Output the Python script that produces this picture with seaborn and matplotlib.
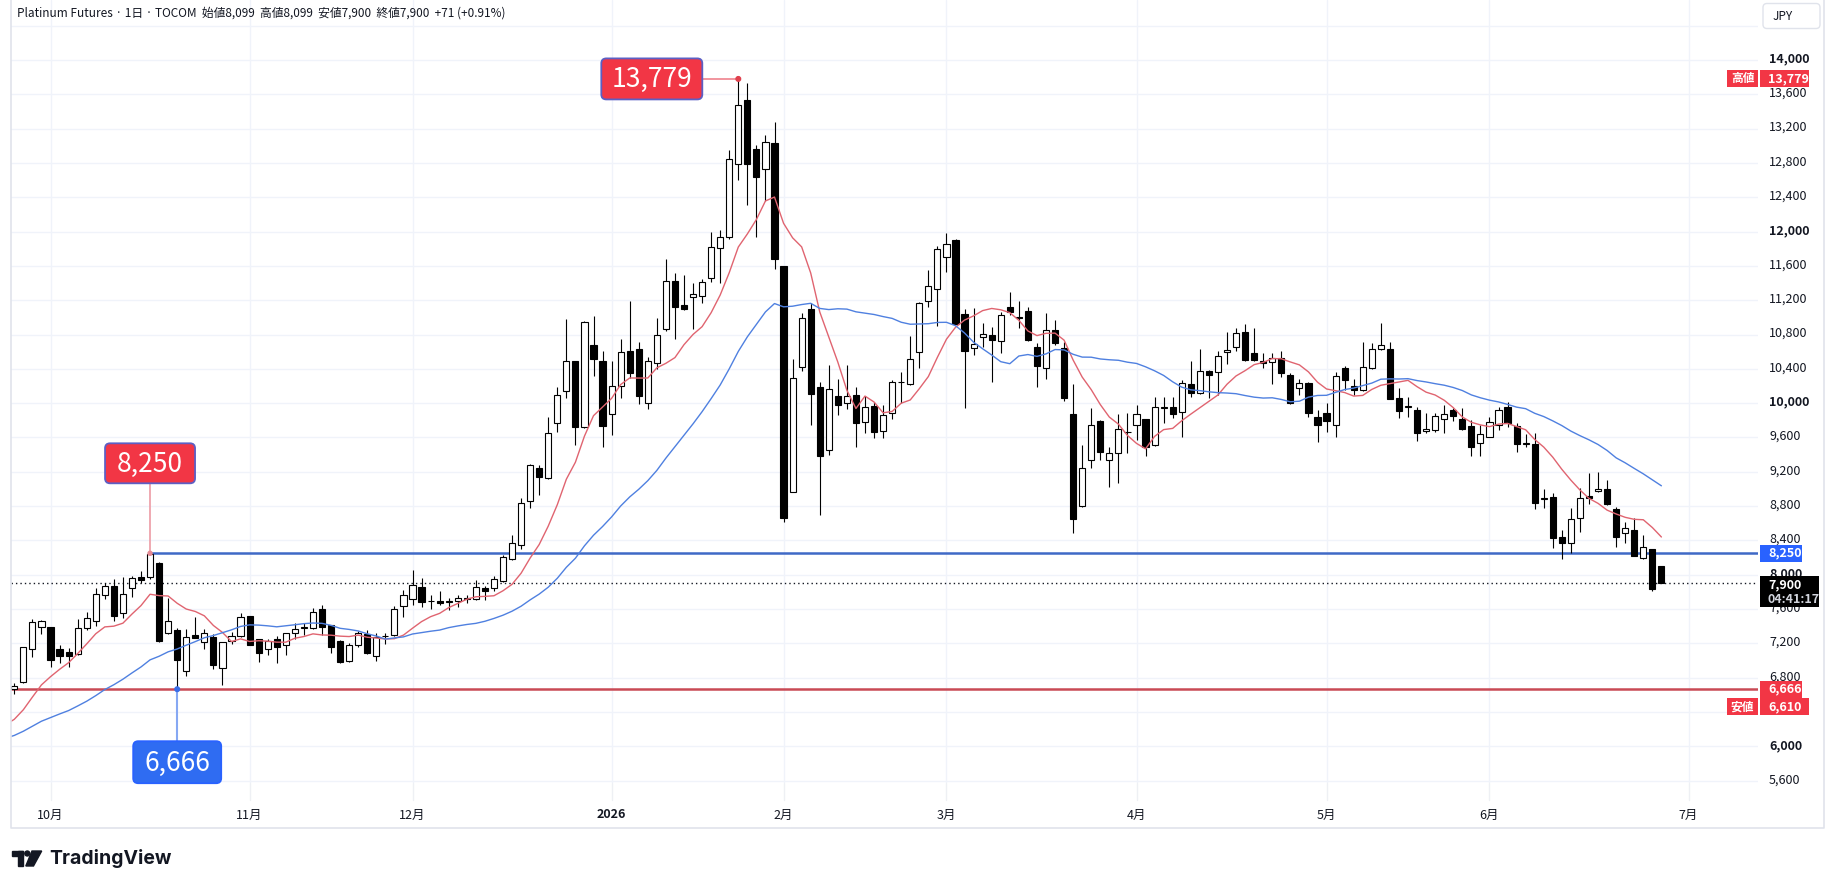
import numpy as np
import pandas as pd
import matplotlib
matplotlib.use("Agg")
import matplotlib.pyplot as plt
import seaborn as sns
from matplotlib.patches import Rectangle, FancyBboxPatch, Circle, Polygon

# --- data, one row per trading day ---
opens = [6668, 6754, 7134, 7391, 7391, 7134, 7095, 7072, 7379, 7457,
         7760, 7865, 7550, 7842, 7970, 7970, 8133, 7325, 7356, 6882,
         7298, 7212, 7274, 6909, 7228, 7282, 7519, 7247, 7130, 7247,
         7177, 7317, 7385, 7375, 7597, 7414, 7224, 6991, 7177, 7309,
         7053, 7282, 7294, 7636, 7721, 7861, 7694, 7698, 7686, 7694,
         7720, 7713, 7849, 7841, 7931, 8179, 8350, 8863, 9240, 9123,
         9764, 10141, 10487, 9721, 10677, 10491, 9869, 10196, 10604, 10627,
         10001, 10464, 10868, 11419, 11140, 11233, 11248, 11458, 11804, 11941,
         12784, 13530, 12963, 12726, 13029, 11595, 8969, 10418, 11094, 10185,
         9450, 10080, 9998, 10091, 9777, 9963, 9672, 9882, 10245, 10220,
         10593, 11187, 11327, 11708, 11902, 11039, 10639, 10767, 10794, 10728,
         11121, 11000, 11074, 10655, 10406, 10853, 10639, 9874, 8802, 9334,
         9792, 9338, 9415, 9660, 9742, 9812, 9509, 9945, 9951, 9893,
         10220, 10115, 10371, 10363, 10593, 10651, 10826, 10585, 10491, 10476,
         10526, 10324, 10173, 10231, 9843, 9881, 9746, 10406, 10204, 10150,
         10406, 10628, 10628, 10056, 9960, 9920, 9672, 9687, 9812, 9920,
         9811, 9734, 9532, 9609, 9745, 9959, 9734, 9525, 9520, 8885,
         8906, 8436, 8366, 8658, 8918, 8972, 9000, 8766, 8483, 8522,
         8191, 8300, 8099]
highs = [6734, 7160, 7484, 7470, 7395, 7181, 7142, 7484, 7566, 7849,
         7900, 7950, 7970, 7985, 8040, 8250, 8148, 7733, 7375, 7371,
         7503, 7364, 7309, 7220, 7329, 7550, 7525, 7250, 7247, 7286,
         7325, 7441, 7441, 7608, 7651, 7420, 7239, 7208, 7348, 7356,
         7325, 7325, 7636, 7822, 8055, 7962, 7764, 7814, 7725, 7764,
         7764, 7938, 7869, 7985, 8230, 8463, 8890, 9290, 9279, 9834,
         10192, 10977, 10490, 10957, 11015, 10607, 10491, 10747, 11190, 10708,
         10534, 10988, 11676, 11513, 11489, 11404, 11450, 11990, 12018, 12951,
         13779, 13728, 13013, 13126, 13281, 11600, 10511, 11047, 11171, 10251,
         10445, 10278, 10445, 10185, 10084, 10014, 9975, 10270, 10363, 10783,
         11183, 11552, 11832, 11980, 11910, 11098, 11113, 10938, 10892, 11066,
         11296, 11195, 11125, 10698, 11047, 10970, 10717, 10220, 9513, 9940,
         9804, 9493, 9870, 9882, 9979, 9820, 10068, 10068, 10076, 10270,
         10495, 10627, 10387, 10612, 10826, 10872, 10919, 10872, 10581, 10581,
         10604, 10348, 10278, 10251, 9920, 9998, 10367, 10433, 10278, 10709,
         10697, 10930, 10709, 10173, 10076, 9959, 9882, 9882, 9979, 9940,
         9940, 9804, 9745, 9842, 9959, 10010, 9765, 9641, 9648, 8995,
         8957, 8522, 8774, 9007, 9182, 9194, 9104, 8793, 8619, 8658,
         8464, 8305, 8099]
lows = [6610, 6740, 7045, 7305, 6928, 6967, 6921, 7060, 7356, 7402,
        7721, 7465, 7492, 7744, 7907, 7954, 7216, 7309, 6666, 6824,
        7260, 7134, 6897, 6715, 7189, 7270, 7178, 6987, 7061, 6975,
        7068, 7247, 7294, 7370, 7294, 7092, 6975, 6985, 7154, 7076,
        6998, 7193, 7286, 7511, 7651, 7628, 7601, 7643, 7590, 7628,
        7666, 7705, 7705, 7814, 7915, 8171, 8296, 8774, 8929, 9115,
        9659, 10056, 9508, 9706, 10320, 9485, 9628, 10060, 10289, 9990,
        9927, 10394, 10845, 10743, 11085, 10868, 11171, 11416, 11396, 11910,
        12601, 12310, 11941, 12360, 11568, 8620, 8960, 10379, 9746, 8697,
        9396, 9862, 9932, 9493, 9648, 9590, 9598, 9820, 9998, 10210,
        10414, 11117, 10904, 11533, 10920, 9940, 10562, 10651, 10251, 10589,
        11028, 10872, 10730, 10193, 10282, 10678, 10025, 8483, 8795, 9240,
        9338, 9027, 9074, 9415, 9571, 9388, 9500, 9765, 9823, 9610,
        10076, 10110, 10056, 10091, 10453, 10612, 10495, 10495, 10414, 10219,
        10301, 9990, 10091, 9843, 9544, 9668, 9610, 10153, 10095, 10145,
        10400, 10620, 10045, 9823, 9843, 9563, 9648, 9668, 9656, 9796,
        9687, 9388, 9388, 9602, 9687, 9726, 9435, 9485, 8766, 8774,
        8316, 8180, 8250, 8502, 8825, 8965, 8815, 8327, 8374, 8220,
        8185, 7815, 7900]
closes = [6707, 7154, 7445, 7461, 7010, 7049, 7049, 7375, 7496, 7772,
          7873, 7523, 7772, 7966, 7939, 8238, 7232, 7457, 7006, 7270,
          7267, 7317, 6952, 7212, 7282, 7511, 7185, 7084, 7224, 7162,
          7317, 7364, 7391, 7562, 7395, 7162, 6983, 7181, 7317, 7092,
          7278, 7290, 7597, 7768, 7884, 7678, 7698, 7667, 7690, 7725,
          7725, 7853, 7814, 7946, 8203, 8374, 8832, 9283, 9143, 9656,
          10098, 10487, 9725, 10942, 10518, 9737, 10196, 10592, 10347, 10087,
          10495, 10790, 11419, 11116, 11093, 11268, 11408, 11816, 11940, 12842,
          13472, 12792, 12632, 13040, 11677, 8658, 10290, 10989, 10103, 9388,
          10169, 9983, 10088, 9773, 9960, 9668, 9858, 10243, 10251, 10511,
          11164, 11362, 11793, 11855, 10923, 10612, 10686, 10802, 10736, 11024,
          11063, 10990, 10736, 10437, 10853, 10705, 10064, 8646, 9240, 9742,
          9427, 9423, 9703, 9665, 9870, 9493, 9951, 9951, 9870, 10231,
          10115, 10371, 10332, 10546, 10616, 10822, 10507, 10499, 10464, 10522,
          10348, 9998, 10239, 9881, 9742, 9792, 10321, 10270, 10150, 10418,
          10628, 10674, 10052, 9913, 9967, 9656, 9695, 9850, 9870, 9854,
          9695, 9493, 9637, 9784, 9920, 9773, 9520, 9532, 8840, 8891,
          8432, 8366, 8646, 8891, 8891, 9000, 8821, 8436, 8541, 8223,
          8320, 7829, 7900]
# closes before the visible window (estimated), only to warm up the moving averages
prior_closes = [5860, 5880, 5920, 5950, 5900, 5970, 6010, 5990, 6050, 6080,
                6030, 6060, 6100, 6070, 6120, 6090, 6140, 6110,
                6150, 6120, 6180, 6150, 6280, 6350, 6420, 6480]

month_labels = ['10月', '11月', '12月', '2026', '2月', '3月', '4月', '5月', '6月', '7月']
month_index = [4, 26, 44, 66, 85, 103, 124, 145, 163, 185]
price_ticks = list(range(5600, 14401, 400))

high_idx, high_val = 80, 13779
res_idx, res_val = 15, 8250
sup_idx, sup_val = 18, 6666
last_val = 7900
range_low = 6610

# --- moving averages (9 and 26 day) ---
k = len(prior_closes)
all_close = pd.Series(prior_closes + closes, dtype=float)
ma = pd.DataFrame({
    'i': np.arange(-k, len(closes)),
    'ma9': all_close.rolling(9).mean(),
    'ma26': all_close.rolling(26).mean(),
})
ma = ma[ma['i'] >= -1]

df = pd.DataFrame({
    'i': np.arange(len(closes)),
    'open': opens, 'high': highs, 'low': lows, 'close': closes,
})

sns.set_theme(style="white")
plt.rcParams['font.family'] = ['Noto Sans CJK JP', 'DejaVu Sans']

W, H = 1828, 889
fig = plt.figure(figsize=(W / 100, H / 100), dpi=100)
fig.patch.set_facecolor('white')

# pane in pixels: x 11..1758, y 0..783
PX_L, PX_R, PX_B = 11, 1758, 783
ax = fig.add_axes([PX_L / W, 1 - PX_B / H, (PX_R - PX_L) / W, PX_B / H])
step, first = 9.05, 14.3
ax.set_xlim((PX_L - first) / step, (PX_R - first) / step)
ax.set_ylim(8250 - (PX_B - 553.3) * 11.655, 8250 + 553.3 * 11.655)
ax.set_facecolor('white')
for s in ax.spines.values():
    s.set_visible(False)
ax.set_yticks(price_ticks)
ax.set_xticks(month_index)
ax.tick_params(left=False, bottom=False, labelleft=False, labelbottom=False)
ax.grid(True, color='#f0f3fa', lw=1)
ax.set_axisbelow(True)

# reference lines
ax.axhline(sup_val, color='#c94a55', lw=1.8, zorder=2)
ax.hlines(res_val, res_idx, 400, color='#3f69c6', lw=1.8, zorder=2)
ax.axhline(last_val, color='#131722', lw=1, ls=(0, (1, 2.2)), zorder=2)

# candles
up = df['close'] >= df['open']
lo = np.minimum(df['open'], df['close'])
ht = np.maximum((df['close'] - df['open']).abs(), 1.0)
ax.vlines(df['i'], df['low'], df['high'], color='black', lw=0.8, zorder=3)
ax.bar(df['i'][up], ht[up], bottom=lo[up], width=0.68, color='white',
       edgecolor='black', linewidth=0.8, zorder=4)
ax.bar(df['i'][~up], ht[~up], bottom=lo[~up], width=0.68, color='black',
       edgecolor='black', linewidth=0.8, zorder=4)

sns.lineplot(data=ma, x='i', y='ma9', color='#e06470', lw=1, ax=ax, zorder=5)
sns.lineplot(data=ma, x='i', y='ma26', color='#4f80e0', lw=1, ax=ax, zorder=5)
ax.set_xlabel('')
ax.set_ylabel('')


def px(i, p):
    x, y = ax.transData.transform((i, p))
    return x, H - y


# overlay in pixel coordinates for axes labels and annotations
ov = fig.add_axes([0, 0, 1, 1], zorder=10)
ov.set_xlim(0, W)
ov.set_ylim(H, 0)
ov.axis('off')
ov.patch.set_alpha(0)

DARK = '#131722'
RED = '#F23645'
BLUE = '#2962FF'

# frame
ov.plot([PX_L, PX_L, 1824, 1824], [0, 828, 828, 0], color='#e0e3eb', lw=1.2)

_, yh = px(0, high_val)
_, yr = px(0, res_val)
_, ys = px(0, sup_val)
_, yl = px(0, last_val)
low_tag_y = ys + 17.5

# price axis labels (skip the one fully covered by the low tag, as in the source)
for p in price_ticks:
    _, y = px(0, p)
    if y < 35 or y > 790 or abs(y - low_tag_y) < 6:
        continue
    ov.text(1769, y - 1, f'{p:,}', fontsize=9, color=DARK, va='center', ha='left',
            fontweight='bold' if p % 2000 == 0 else 'normal')

# JPY box
ov.add_patch(FancyBboxPatch((1763, 3.5), 57, 25, boxstyle='round,pad=0,rounding_size=4',
                            fc='white', ec='#e0e3eb', lw=1))
ov.text(1773, 16, 'JPY', fontsize=8.5, color=DARK, va='center', ha='left')


def axis_tag(y, text, fc, x1=1802, tag=None):
    ov.add_patch(Rectangle((1760, y - 8.5), x1 - 1760, 17, fc=fc, ec='none', zorder=6))
    ov.text(1768, y, text, color='white', fontsize=9, fontweight='bold',
            va='center', ha='left', zorder=7)
    if tag:
        ov.add_patch(Rectangle((1727, y - 8.5), 31, 17, fc=fc, ec='none', zorder=6))
        ov.text(1742.5, y, tag, color='white', fontsize=8.5, fontweight='bold',
                va='center', ha='center', zorder=7)


axis_tag(yh, f'{high_val:,}', RED, x1=1809, tag='高値')
axis_tag(yr, f'{res_val:,}', BLUE)
axis_tag(ys, f'{sup_val:,}', RED)
axis_tag(low_tag_y, f'{range_low:,}', RED, x1=1809, tag='安値')
ov.add_patch(Rectangle((1760, yl - 7), 59, 31, fc='black', ec='none', zorder=6))
ov.text(1768, yl + 2, f'{last_val:,}', color='white', fontsize=9, fontweight='bold',
        va='center', ha='left', zorder=7)
ov.text(1768, yl + 16, '04:41:17', color='#d1d4dc', fontsize=9, fontweight='bold',
        va='center', ha='left', zorder=7)

# time axis
for lab, mi in zip(month_labels, month_index):
    x, _ = px(mi, 0)
    ov.plot([x, x], [PX_B, 800], color='#eef0f4', lw=1)
    ov.text(x, 815, lab, fontsize=9, color=DARK, ha='center', va='center',
            fontweight='bold' if lab == '2026' else 'normal')


def callout(cx, cy, text, fc, ec, w, h):
    ov.add_patch(FancyBboxPatch((cx - w / 2, cy - h / 2), w, h,
                                boxstyle='round,pad=0,rounding_size=5',
                                fc=fc, ec=ec, lw=1.3, zorder=8))
    ov.text(cx, cy + 1, text, color='white', fontsize=19, ha='center', va='center', zorder=9)


# 13,779 high callout
hx, hy = px(high_idx, high_val)
ov.plot([hx - 36, hx], [hy, hy], color='#f08c96', lw=1.3, zorder=7)
ov.add_patch(Circle((hx, hy), 2.3, color='#e0404d', zorder=8))
callout(hx - 36 - 50.5, hy, f'{high_val:,}', RED, '#5c5fc4', 101, 41)

# 8,250 callout
rx, ry = px(res_idx, res_val)
ov.plot([rx, rx], [ry - 70, ry], color='#eea3ab', lw=1.3, zorder=7)
ov.add_patch(Circle((rx, ry), 2.0, color='#e58a94', zorder=8))
callout(rx, ry - 90, f'{res_val:,}', RED, '#5c5fc4', 90, 40)

# 6,666 callout
sx, sy = px(sup_idx, sup_val)
ov.plot([sx, sx], [sy, sy + 52], color='#86a8f3', lw=1.5, zorder=7)
ov.add_patch(Circle((sx, sy), 2.3, color='#3a6ee8', zorder=8))
callout(sx, sy + 73, f'{sup_val:,}', '#2f6cf2', '#2962FF', 88, 42)

# header
ov.text(17, 13, 'Platinum Futures · 1日 · TOCOM  始値8,099  高値8,099  安値7,900  終値7,900  +71 (+0.91%)',
        fontsize=8.5, color=DARK, ha='left', va='center')

# TradingView logo
ov.add_patch(Rectangle((12.3, 851), 10.7, 5, color=DARK))
ov.add_patch(Rectangle((18, 851), 5, 15, color=DARK))
ov.add_patch(Circle((27.3, 853.5), 2.5, color=DARK))
ov.add_patch(Polygon([(32, 851), (41.7, 851), (33.5, 866), (25.8, 866)], color=DARK))
ov.text(49, 858.5, 'TradingView', fontsize=14, fontweight='bold', color=DARK,
        ha='left', va='center', family=['Inter', 'DejaVu Sans'])

fig.savefig('out.png', dpi=100)
